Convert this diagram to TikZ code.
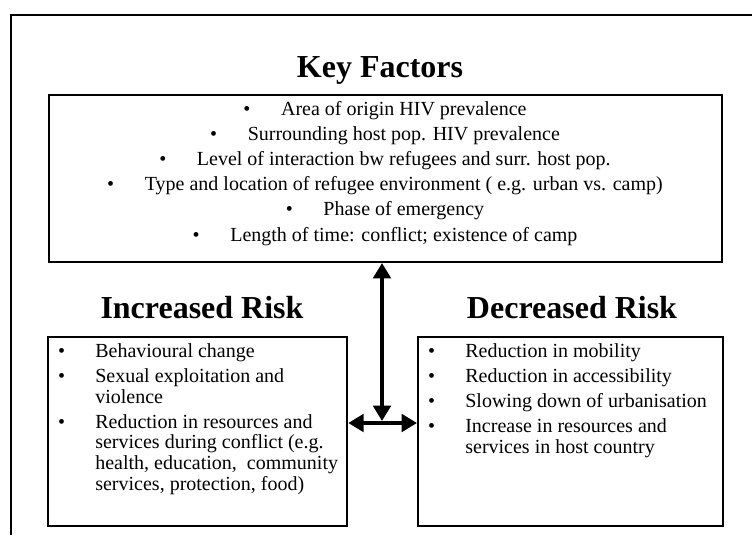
\documentclass[tikz,border=0pt]{standalone}
\usepackage{fontspec}
\setmainfont{Liberation Serif}
\usetikzlibrary{arrows.meta}

\tikzset{every picture/.style={line width=0.75pt}}
\tikzset{
  factorbox/.style={draw, line width=1.5pt, inner sep=0pt},
  headline/.style={font=\fontsize{24pt}{28pt}\selectfont\bfseries, inner sep=0pt, anchor=base},
  keyline/.style={font=\fontsize{15pt}{18pt}\selectfont, inner sep=0pt, anchor=base},
  risklist/.style={font=\fontsize{15pt}{15.5pt}\selectfont, inner sep=0pt, anchor=north west, align=left},
  bigarrow/.style={line width=3pt, {Triangle[length=11.5pt,width=13pt]}-{Triangle[length=11.5pt,width=13pt]}}
}
\newcommand{\kbul}{\textbullet\hspace{23pt}}
\newcommand{\rbul}{\makebox[28pt][l]{\textbullet}}

\begin{document}
\begin{tikzpicture}[x=0.75pt,y=0.75pt,yscale=-1,xscale=1]
	\useasboundingbox (0,0) rectangle (752,535);
	%Straight Lines: outer frame
	\draw[line width=1.5pt] (11,535) -- (11,15) -- (752,15) ;

	%Shape: Rectangle
	\node[factorbox, minimum width=504.75pt, minimum height=125.25pt] (keybox) at (385.5,178.5) {};
	%Shape: Rectangle
	\node[factorbox, minimum width=224.25pt, minimum height=141.75pt] (incbox) at (197.75,431.5) {};
	%Shape: Rectangle
	\node[factorbox, minimum width=228.75pt, minimum height=141.75pt] (decbox) at (570.5,431.5) {};

	% Text Node
	\node[headline] (keytitle) at (380,77) {Key Factors};
	% Text Node
	\node[headline] (inctitle) at (202,318) {Increased Risk};
	% Text Node
	\node[headline] (dectitle) at (572,318) {Decreased Risk};

	% Text Node
	\node[keyline] (kf1) at (385,115) {\kbul Area of origin HIV prevalence};
	\node[keyline] (kf2) at (385,140.2) {\kbul Surrounding host pop. HIV prevalence};
	\node[keyline] (kf3) at (385,165.4) {\kbul Level of interaction bw refugees and surr. host pop.};
	\node[keyline] (kf4) at (385,190.6) {\kbul Type and location of refugee environment ( e.g. urban vs. camp)};
	\node[keyline] (kf5) at (385,215.8) {\kbul Phase of emergency};
	\node[keyline] (kf6) at (385,241) {\kbul Length of time: conflict; existence of camp};

	% Text Node
	\node[risklist] (inclist) at (57.5,342.5) {\begin{tabular}{@{}l@{}l@{}}
		\rbul & Behavioural change\\[3.25pt]
		\rbul & Sexual exploitation and\\
		      & violence\\[3.25pt]
		\rbul & Reduction in resources and\\
		      & services during conflict (e.g.\\
		      & health, education,\ \ community\\
		      & services, protection, food)
	\end{tabular}};
	% Text Node
	\node[risklist] (declist) at (427.5,342.5) {\begin{tabular}{@{}l@{}l@{}}
		\rbul & Reduction in mobility\\[3.25pt]
		\rbul & Reduction in accessibility\\[3.25pt]
		\rbul & Slowing down of urbanisation\\[3.25pt]
		\rbul & Increase in resources and\\
		      & services in host country
	\end{tabular}};

	%Straight Lines: arrows
	\coordinate (hub) at (382,423);
	\coordinate (hubtop) at (382,421);
	\draw[bigarrow] (keybox.south -| hubtop) -- (hubtop) ;
	\draw[bigarrow] (incbox.east |- hub) -- (decbox.west |- hub) ;
\end{tikzpicture}
\end{document}
